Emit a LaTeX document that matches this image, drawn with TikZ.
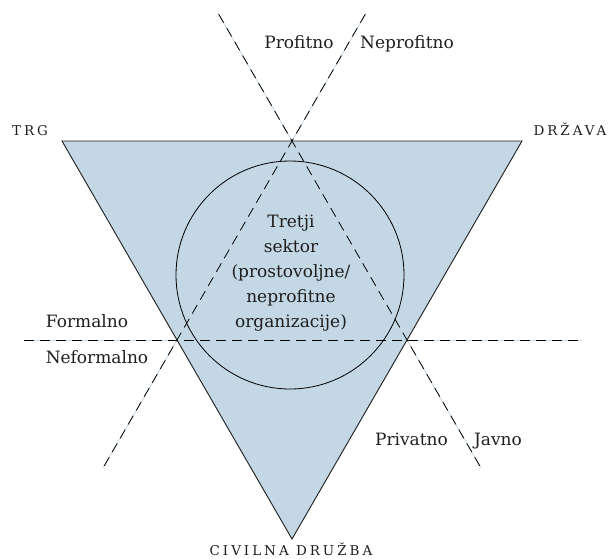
\documentclass[tikz,border=0pt]{standalone}
\usepackage{fontspec}
\setmainfont{DejaVu Serif}
\newfontfamily\capsfont[LetterSpace=22]{DejaVu Serif}
\definecolor{triblue}{RGB}{195,215,229}
\definecolor{inkgray}{RGB}{30,30,30}
\begin{document}
\begin{tikzpicture}[x=1pt,y=-1pt,
  lbl/.style={font=\fontsize{17}{25}\selectfont, text=inkgray, inner sep=0pt},
  caps/.style={font=\capsfont\fontsize{13.5}{16}\selectfont, text=inkgray, inner sep=0pt},
  divider/.style={draw=black, line width=0.8pt, dash pattern=on 10pt off 6pt},
  underlay/.style={draw=triblue, line width=0.8pt}]
\useasboundingbox (0,0) rectangle (611,558);
% triangle corners
\coordinate (A) at (62,141);
\coordinate (B) at (522,141);
\coordinate (C) at (292,539);
% dividing-line end points
\coordinate (H1) at (24,340);
\coordinate (H2) at (582,340);
\coordinate (D1a) at (218.6,14);
\coordinate (D1b) at (481,468);
\coordinate (D2a) at (365.4,14);
\coordinate (D2b) at (103,468);
\fill[triblue] (A) -- (B) -- (C) -- cycle;
\draw[underlay] (H1) -- (H2);
\draw[underlay] (D1a) -- (D1b);
\draw[underlay] (D2a) -- (D2b);
\draw[divider] (H1) -- (H2);
\draw[divider] (D1a) -- (D1b);
\draw[divider] (D2a) -- (D2b);
\node[draw=black, circle, minimum size=228pt, inner sep=0pt, line width=0.8pt] (ring) at (290,275) {};
\draw[draw=inkgray, line width=0.9pt, line join=miter] (A) -- (B) -- (C) -- cycle;
% labels
\node[lbl, anchor=base] (profit) at (299,48) {Profitno};
\node[lbl, anchor=base] (nonprofit) at (407,48) {Neprofitno};
\node[lbl, anchor=base] (formal) at (87,327) {Formalno};
\node[lbl, anchor=base] (informal) at (97,363) {Neformalno};
\node[lbl, anchor=base] (private) at (411.5,445) {Privatno};
\node[lbl, anchor=base] (public) at (498,445) {Javno};
\node[lbl, align=center] (third) at (291,273.5) {Tretji\\sektor\\(prostovoljne/\\neprofitne\\organizacije)};
\node[caps, anchor=base] (market) at (30,135) {TRG};
\node[caps, anchor=base] (state) at (570,135) {DRŽAVA};
\node[caps, anchor=base] (civil) at (291,555) {CIVILNA DRUŽBA};
\end{tikzpicture}
\end{document}
